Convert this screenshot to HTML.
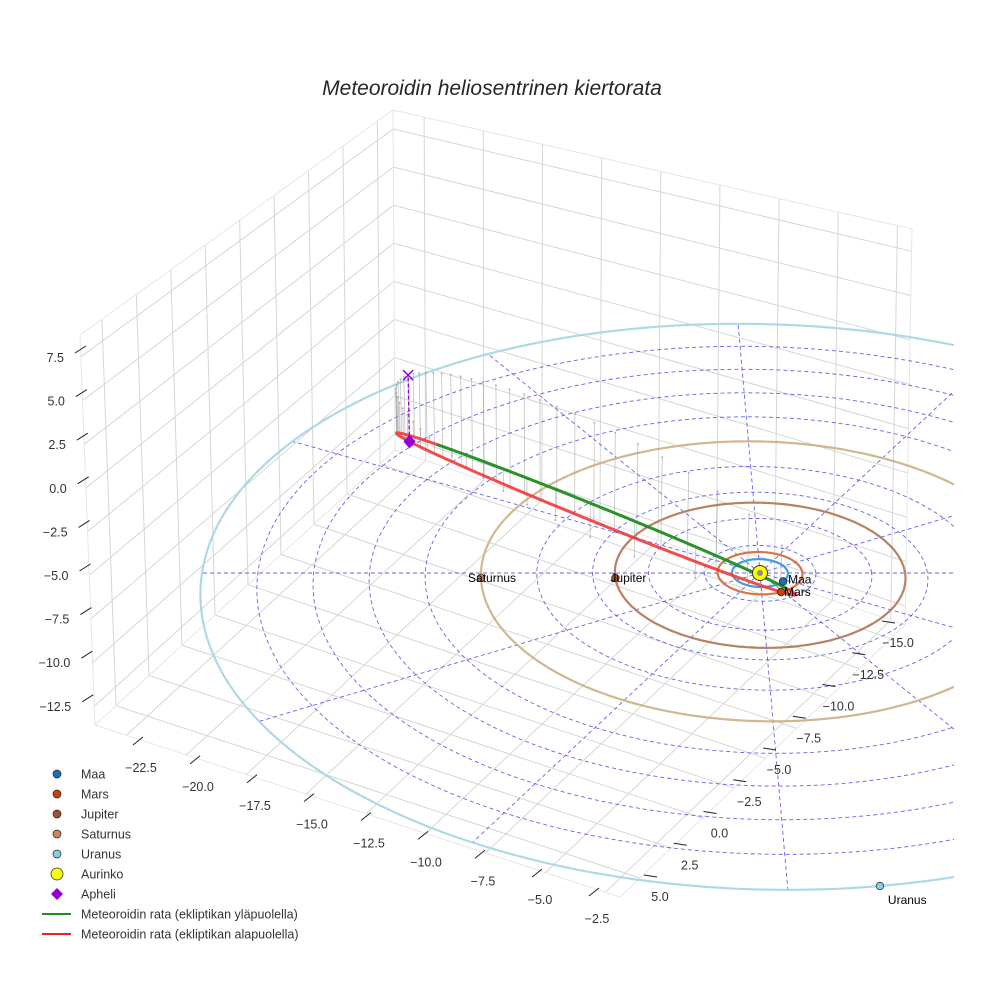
<!DOCTYPE html>
<html><head><meta charset="utf-8"><style>
html,body{margin:0;padding:0;background:#fff;}
svg{display:block;font-family:"Liberation Sans",sans-serif;}
</style></head><body>
<svg id="chart" width="984" height="984" viewBox="0 0 984 984" xmlns="http://www.w3.org/2000/svg">
<defs><clipPath id="clipR"><rect x="0" y="0" width="954" height="984"/></clipPath></defs>
<text x="492" y="95" text-anchor="middle" font-size="21" font-style="italic" fill="#262626">Meteoroidin heliosentrinen kiertorata</text>
<g id="box"></g>
<g id="plane" clip-path="url(#clipR)"></g>
<g id="ticks"></g>
<g id="legend"></g>
</svg>
<script>
// ---- data ----
const planetNames = ['Maa','Mars','Jupiter','Saturnus','Uranus'];
const orbitRadii = [1.0, 1.52, 5.2, 10.0, 20.0];
const planetAnglesDeg = [-37, -63, 184, 182, -81.6];
const ringRadii = [2,4,6,8,10,12,14,16,18,20];
const radialAnglesDeg = [0,30,60,90,120,150,180,210,240,270,300,330];
const aphelionPoint = [-13.1, 15.5, -2.95];
const perihelionPoint = [0.85, -1.05, 0];
const minorAxisVector = [-2.54, -1.85, 2.54];
const xTickLabels = ['−22.5','−20.0','−17.5','−15.0','−12.5','−10.0','−7.5','−5.0','−2.5'];
const yTickLabels = ['5.0','2.5','0.0','−2.5','−5.0','−7.5','−10.0','−12.5','−15.0'];
const zTickLabels = ['7.5','5.0','2.5','0.0','−2.5','−5.0','−7.5','−10.0','−12.5'];
const legendLabels = ['Maa','Mars','Jupiter','Saturnus','Uranus','Aurinko','Apheli','Meteoroidin rata (ekliptikan yläpuolella)','Meteoroidin rata (ekliptikan alapuolella)'];

// ---- style ----
const orbitColors = ['#3a9ad6','#d4703f','#b27a5c','#d2b48c','#add8e6'];
const planetColors = ['#1f6fb0','#c1440e','#a0522d','#c8875e','#87cde6'];
const labelOffsets = [[5,2],[3,4],[-5,4],[-13,4],[8,18]];

const NS='http://www.w3.org/2000/svg';
function mk(tag, attrs, parent){const e=document.createElementNS(NS,tag);for(const k in attrs)e.setAttribute(k,attrs[k]);parent.appendChild(e);return e;}

// projection
const S=27.9, SX=760, SY=573, X0=555, SINE=0.5, COSE=0.866, K=0.0069;
function proj(u,v,z){const w=v*COSE-z*SINE;const f=1/(1+K*w);const up=v*SINE+z*COSE;return [X0+(SX-X0+S*u)*f, SY-S*up*f];}
function pathOf(pts){return pts.map((p,i)=>(i?'L':'M')+p[0].toFixed(1)+' '+p[1].toFixed(1)).join(' ');}

// ---- box ----
const box=document.getElementById('box');
const TLF=[80,335],BLF=[95,725],TB=[393,110],BB=[395,450],TR=[912,229],BR=[905,625],F=[620,897];
function lerp(a,b,t){return [a[0]+(b[0]-a[0])*t,a[1]+(b[1]-a[1])*t];}
function ln(a,b,col,w,parent,name){const e=mk('line',{x1:a[0],y1:a[1],x2:b[0],y2:b[1],stroke:col,'stroke-width':w},parent);return e;}
const xf=i=>0.06+i*0.114, yf=i=>0.07+i*0.11, zf=i=>0.056+i*0.112;
for(let i=0;i<9;i++){
  const g=zf(i);
  ln(lerp(TLF,BLF,g),lerp(TB,BB,g),'#d6d6d6',1,box,'left-wall-gridline');
  ln(lerp(TB,BB,g),lerp(TR,BR,g),'#d6d6d6',1,box,'right-wall-gridline');
  const fy=yf(i);
  ln(lerp(BLF,BB,fy),lerp(TLF,TB,fy),'#d6d6d6',1,box,'left-wall-gridline');
  ln(lerp(F,BR,fy),lerp(BLF,BB,fy),'#d6d6d6',1,box,'floor-gridline');
  const fx=xf(i);
  ln(lerp(BB,BR,fx),lerp(TB,TR,fx),'#d6d6d6',1,box,'right-wall-gridline');
  ln(lerp(BLF,F,fx),lerp(BB,BR,fx),'#d6d6d6',1,box,'floor-gridline');
}
[[TLF,TB],[TB,TR],[TLF,BLF],[TB,BB],[TR,BR],[BLF,BB],[BB,BR],[BLF,F],[F,BR]].forEach(e=>ln(e[0],e[1],'#e6e6e6',1,box,'box-edge'));

// ---- ecliptic plane ----
const plane=document.getElementById('plane');
ringRadii.forEach(r=>{
  const pts=[];for(let a=0;a<=360;a+=2){const t=a*Math.PI/180;pts.push(proj(r*Math.cos(t),r*Math.sin(t),0));}
  const e=mk('path',{d:pathOf(pts),fill:'none',stroke:'#4a4ae0','stroke-width':0.9,'stroke-dasharray':'4,3',opacity:0.85},plane);
  
  
});
const rMax=ringRadii[ringRadii.length-1];
radialAnglesDeg.forEach(a=>{
  const t=a*Math.PI/180;const pts=[];for(let s=0;s<=20;s++){const r=rMax*s/20;pts.push(proj(r*Math.cos(t),r*Math.sin(t),0));}
  const e=mk('path',{d:pathOf(pts),fill:'none',stroke:'#4a4ae0','stroke-width':0.9,'stroke-dasharray':'4,3',opacity:0.85},plane);
  
  
});
// planet orbits
orbitRadii.forEach((r,i)=>{
  const pts=[];for(let a=0;a<=360;a+=1.5){const t=a*Math.PI/180;pts.push(proj(r*Math.cos(t),r*Math.sin(t),0));}
  const e=mk('path',{d:pathOf(pts),fill:'none',stroke:orbitColors[i],'stroke-width':2.2,opacity:0.95},plane);
  
  
});

// meteoroid orbit
const C=[0,1,2].map(k=>(aphelionPoint[k]+perihelionPoint[k])/2);
const M=[0,1,2].map(k=>(aphelionPoint[k]-perihelionPoint[k])/2);
function orbitPt(E){return [0,1,2].map(k=>C[k]+M[k]*Math.cos(E)+minorAxisVector[k]*Math.sin(E));}
// stems (sampled uniformly in time)
const rA=Math.hypot(...aphelionPoint), rP=Math.hypot(...perihelionPoint), ecc=(rA-rP)/(rA+rP);
for(let i=0;i<48;i++){
  const Mn=2*Math.PI*i/48; let Ep=Mn; for(let it=0;it<30;it++)Ep=Mn+ecc*Math.sin(Ep);
  const p=orbitPt(Ep+Math.PI); const a=proj(p[0],p[1],p[2]), b=proj(p[0],p[1],0);
  const l=mk('line',{x1:a[0],y1:a[1],x2:b[0],y2:b[1],stroke:'#9a9a9a','stroke-width':0.8,opacity:0.6},plane);
  
  
  const d=mk('circle',{cx:b[0],cy:b[1],r:1,fill:'#999',opacity:0.7},plane);
  
  
}
// split by z sign
const segs=[];let cur=null;
for(let s=0;s<=720;s++){const E=2*Math.PI*s/720;const p=orbitPt(E);const above=p[2]>=0;const sp=proj(p[0],p[1],p[2]);
  if(!cur||cur.above!==above){if(cur)cur.pts.push(sp);cur={above,pts:[sp]};segs.push(cur);}else cur.pts.push(sp);}
segs.filter(s=>!s.above).forEach(s=>{const e=mk('path',{d:pathOf(s.pts),fill:'none',stroke:'#f03a3a','stroke-width':3,opacity:0.9,'stroke-linecap':'round'},plane);
  
  });
segs.filter(s=>s.above).forEach(s=>{const e=mk('path',{d:pathOf(s.pts),fill:'none',stroke:'#1e8c1e','stroke-width':3,opacity:0.95,'stroke-linecap':'round'},plane);
  
  });

// apheli
const ap=proj(...aphelionPoint), ap0=proj(aphelionPoint[0],aphelionPoint[1],0);
const apl=mk('line',{x1:ap[0],y1:ap[1],x2:ap0[0],y2:ap0[1],stroke:'#9400d3','stroke-width':1.3,'stroke-dasharray':'4,2'},plane);


const apx=mk('path',{d:`M${ap0[0]-5} ${ap0[1]-5}L${ap0[0]+5} ${ap0[1]+5}M${ap0[0]-5} ${ap0[1]+5}L${ap0[0]+5} ${ap0[1]-5}`,stroke:'#9400d3','stroke-width':1.5},plane);


const apd=mk('path',{d:`M${ap[0]} ${ap[1]-7}L${ap[0]+6} ${ap[1]}L${ap[0]} ${ap[1]+7}L${ap[0]-6} ${ap[1]}Z`,fill:'#9400d3'},plane);



// sun
const sun=proj(0,0,0);
const sc=mk('circle',{cx:sun[0],cy:sun[1],r:7.5,fill:'#ffff00',stroke:'#333','stroke-width':1},plane);


const sci=mk('circle',{cx:sun[0],cy:sun[1],r:3,fill:'#6060c0',opacity:0.7},plane);



// planets
planetNames.forEach((n,i)=>{
  const t=planetAnglesDeg[i]*Math.PI/180, r=orbitRadii[i];
  const p=proj(r*Math.cos(t),r*Math.sin(t),0);
  const c=mk('circle',{cx:p[0],cy:p[1],r:3.8,fill:planetColors[i],stroke:'#222','stroke-width':0.7},plane);
  
  
  const tx=mk('text',{x:p[0]+labelOffsets[i][0],y:p[1]+labelOffsets[i][1],'font-size':12,fill:'#000'},plane);
  tx.textContent=n;
  
  
});

// ---- ticks ----
const tk=document.getElementById('ticks');
zTickLabels.forEach((s,i)=>{
  const y=357+i*43.6, x=64+i*0.9;
  ln([x+11,y-4],[x+22,y-11],'#222',1,tk,'z-tick');
  const t=mk('text',{x:x,y:y+5,'font-size':12.5,'text-anchor':'end',fill:'#333'},tk);t.textContent=s;
  
  
});
xTickLabels.forEach((s,i)=>{
  const p=lerp([141,767],[597,918],i/8);
  ln([p[0]-8,p[1]-22],[p[0]+2,p[1]-30],'#222',1,tk,'x-tick');
  const t=mk('text',{x:p[0],y:p[1]+5,'font-size':12.5,'text-anchor':'middle',fill:'#333'},tk);t.textContent=s;
  
  
});
yTickLabels.forEach((s,i)=>{
  const p=lerp([660,896],[898,642],i/8);
  ln([p[0]-16,p[1]-21],[p[0]-3,p[1]-19],'#222',1,tk,'y-tick');
  const t=mk('text',{x:p[0],y:p[1]+5,'font-size':12.5,'text-anchor':'middle',fill:'#333'},tk);t.textContent=s;
  
  
});

// ---- legend ----
const lg=document.getElementById('legend');
legendLabels.forEach((s,i)=>{
  const y=774+i*20;
  let m;
  if(i<5){m=mk('circle',{cx:57,cy:y,r:4,fill:planetColors[i],stroke:'#222','stroke-width':0.7},lg);}
  else if(i===5){m=mk('circle',{cx:57,cy:y,r:6,fill:'#ffff00',stroke:'#333','stroke-width':0.8},lg);}
  else if(i===6){m=mk('path',{d:`M57 ${y-6}L63 ${y}L57 ${y+6}L51 ${y}Z`,fill:'#9400d3'},lg);}
  else {m=mk('line',{x1:42,y1:y,x2:71,y2:y,stroke:i===7?'#1e8c1e':'#f02020','stroke-width':2},lg);}
  
  
  const t=mk('text',{x:81,y:y+4.5,'font-size':12.5,fill:'#333'},lg);t.textContent=s;
  
  
});
</script>
</body></html>
